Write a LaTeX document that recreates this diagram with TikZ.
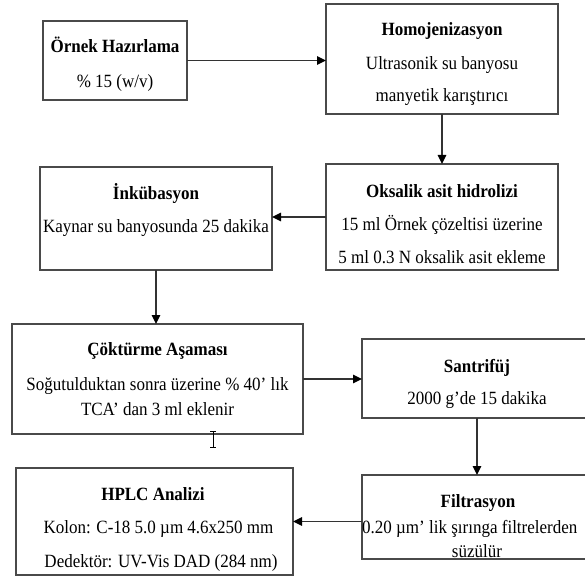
\documentclass[tikz,border=0pt]{standalone}
\usepackage{fontspec}
\setmainfont{Liberation Serif}
\usetikzlibrary{arrows.meta}
\definecolor{edge}{HTML}{4A4A4A}
\definecolor{wire}{HTML}{333333}
\newcommand{\tallt}[1]{\scalebox{1}[1.1]{#1}}
\tikzset{
  box/.style={draw=edge, line width=1.5bp, rectangle, inner sep=0pt, outer sep=0pt},
  ttl/.style={anchor=base, inner sep=0pt, font=\fontsize{17bp}{20bp}\selectfont\bfseries},
  txt/.style={anchor=base, inner sep=0pt, font=\fontsize{17bp}{20bp}\selectfont},
  conn/.style={draw=wire, line width=1.4bp, -{Triangle[length=9bp,width=8.5bp,color=black]}}
}
\begin{document}
\begin{tikzpicture}[x=1bp,y=-1bp]
\useasboundingbox (0,0) rectangle (585,576);
\clip (0,0) rectangle (585,576);
% boxes
\node[box, minimum width=144bp, minimum height=79bp] (ornek) at (115,60.5) {};
\node[box, minimum width=232bp, minimum height=110bp] (homo) at (442,59) {};
\node[box, minimum width=232bp, minimum height=106bp] (oks) at (442,217) {};
\node[box, minimum width=232bp, minimum height=103bp] (ink) at (156,218.5) {};
\node[box, minimum width=291bp, minimum height=110bp] (cok) at (157.5,379) {};
\node[box, minimum width=230bp, minimum height=79bp] (sant) at (477,378.5) {};
\node[box, minimum width=230bp, minimum height=84bp] (filt) at (477,517) {};
\node[box, minimum width=277bp, minimum height=107bp] (hplc) at (154.5,521.5) {};
% texts
\node[ttl] (t1a) at (115,53) {\tallt{Örnek Hazırlama}};
\node[txt] (t1b) at (115,88) {\tallt{\% 15 (w/v)}};
\node[ttl] (t2a) at (442,36) {\tallt{Homojenizasyon}};
\node[txt] (t2b) at (442,70) {\tallt{Ultrasonik su banyosu}};
\node[txt] (t2c) at (442,102) {\tallt{manyetik karıştırıcı}};
\node[ttl] (t3a) at (442,197) {\tallt{Oksalik asit hidrolizi}};
\node[txt] (t3b) at (442,230) {\tallt{15 ml Örnek çözeltisi üzerine}};
\node[txt] (t3c) at (442,263) {\tallt{5 ml 0.3 N oksalik asit ekleme}};
\node[ttl] (t4a) at (156,199) {\tallt{İnkübasyon}};
\node[txt] (t4b) at (156,232) {\tallt{Kaynar su banyosunda 25 dakika}};
\node[ttl] (t5a) at (157.5,355) {\tallt{Çöktürme Aşaması}};
\node[txt] (t5b) at (157.5,390) {\tallt{Soğutulduktan sonra üzerine \% 40’ lık}};
\node[txt] (t5c) at (157.5,415) {\tallt{TCA’ dan 3 ml eklenir}};
\node[ttl] (t6a) at (477,372) {\tallt{Santrifüj}};
\node[txt] (t6b) at (477,404) {\tallt{2000 g’de 15 dakika}};
\node[ttl] (t7a) at (478,507) {\tallt{Filtrasyon}};
\node[txt, anchor=base west] (t7b) at (362,533) {\tallt{0.20 µm’ lik şırınga filtrelerden}};
\node[txt] (t7c) at (477,557) {\tallt{süzülür}};
\node[ttl] (t8a) at (153,500) {\tallt{HPLC Analizi}};
\node[txt] (t8b) at (158.5,533) {\tallt{Kolon: C-18 5.0 µm 4.6x250 mm}};
\node[txt] (t8c) at (161,567) {\tallt{Dedektör: UV-Vis DAD (284 nm)}};
% connectors
\draw[conn] (ornek.east) -- (ornek.east -| homo.west);
\draw[conn] (homo.south -| oks.north) -- (oks.north);
\draw[conn] (oks.west) -- (oks.west -| ink.east);
\draw[conn] (ink.south) -- (ink.south |- cok.north);
\draw[conn] (cok.east) -- (cok.east -| sant.west);
\draw[conn] (sant.south) -- (filt.north);
\draw[conn] (filt.west |- hplc.east) -- (hplc.east);
% text cursor (I-beam)
\draw[black, line width=0.9bp] (210,431) -- (216,431) (213,431) -- (213,447) (210,447) -- (216,447);
\end{tikzpicture}
\end{document}
